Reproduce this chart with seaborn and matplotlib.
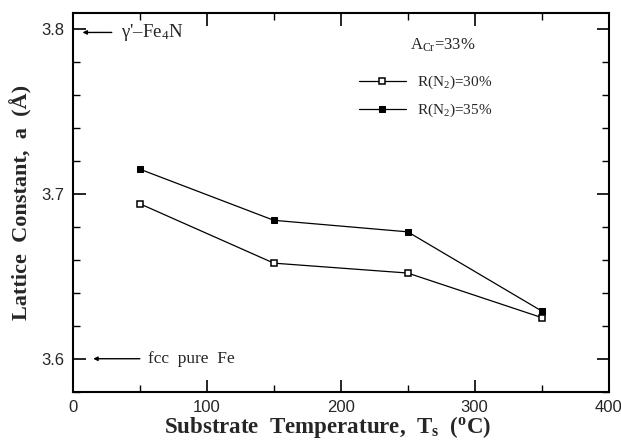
import matplotlib
matplotlib.use("Agg")
import matplotlib.pyplot as plt
from matplotlib.ticker import MultipleLocator, FormatStrFormatter
import numpy as np
import pandas as pd
import seaborn as sns

# Substrate temperature (°C) and lattice constant (Å) for two nitrogen flow ratios
temperature = [50, 150, 250, 350]
a_r30 = [3.694, 3.658, 3.652, 3.625]
a_r35 = [3.715, 3.684, 3.677, 3.629]
series_names = ["R(N$_2$)=30%", "R(N$_2$)=35%"]

# Reference lattice constants
a_fe4n = 3.798
a_fe_fcc = 3.600

sns.set_theme(style="ticks")
plt.rcParams["font.family"] = ["Liberation Serif", "DejaVu Serif"]
plt.rcParams["mathtext.fontset"] = "custom"
plt.rcParams["mathtext.rm"] = "Liberation Serif"
plt.rcParams["mathtext.it"] = "Liberation Serif:italic"
plt.rcParams["mathtext.bf"] = "Liberation Serif:bold"

df = pd.DataFrame({
    "T": temperature * 2,
    "a": a_r30 + a_r35,
    "series": [series_names[0]] * 4 + [series_names[1]] * 4,
})

fig = plt.figure(figsize=(6.21, 4.40), dpi=100)
ax = fig.add_axes([0.1176, 0.1098, 0.8623, 0.8614])

sns.lineplot(data=df[df.series == series_names[0]], x="T", y="a", ax=ax,
             color="black", lw=0.9, marker="s", markersize=5,
             markerfacecolor="white", markeredgecolor="black", markeredgewidth=1.1,
             label=series_names[0])
sns.lineplot(data=df[df.series == series_names[1]], x="T", y="a", ax=ax,
             color="black", lw=0.9, marker="s", markersize=5,
             markerfacecolor="black", markeredgecolor="black",
             label=series_names[1])

ax.set_xlim(0, 400)
ax.set_ylim(3.580, 3.810)
ax.xaxis.set_major_locator(MultipleLocator(100))
ax.xaxis.set_minor_locator(MultipleLocator(50))
ax.yaxis.set_major_locator(MultipleLocator(0.1))
ax.yaxis.set_minor_locator(MultipleLocator(0.02))
ax.yaxis.set_major_formatter(FormatStrFormatter("%.1f"))

ax.tick_params(which="both", direction="in", top=True, right=True, color="black")
ax.tick_params(which="major", length=9, width=1.2, labelsize=12, pad=6)
ax.tick_params(which="minor", length=5, width=1.0)
for lab in ax.get_xticklabels() + ax.get_yticklabels():
    lab.set_family("Liberation Sans")
for sp in ax.spines.values():
    sp.set_linewidth(1.5)
    sp.set_color("black")

ax.set_xlabel(r"Substrate  Temperature,  T$_\mathregular{s}$  ($^\mathregular{o}$C)",
              fontsize=16.5, fontweight="bold")
ax.xaxis.set_label_coords(0.476, -0.058)
ax.set_ylabel(r"Lattice  Constant,  a  (Å)", fontsize=16, fontweight="bold")
ax.yaxis.set_label_coords(-0.075, 0.5)

# Reference markers for γ'-Fe4N and fcc Fe
ax.annotate("", xy=(5, a_fe4n), xytext=(31, a_fe4n),
            arrowprops=dict(arrowstyle="-|>", color="black", lw=1.0, mutation_scale=6))
ax.text(36, a_fe4n, r"γ'–Fe$_\mathregular{4}$N", fontsize=13.5, va="center", ha="left")
ax.annotate("", xy=(13, a_fe_fcc), xytext=(52, a_fe_fcc),
            arrowprops=dict(arrowstyle="-|>", color="black", lw=1.0, mutation_scale=6))
ax.text(56, a_fe_fcc, "fcc  pure  Fe", fontsize=12.5, va="center", ha="left")

ax.text(252, 3.790, r"A$_\mathregular{Cr}$=33%", fontsize=12, va="center", ha="left")

leg = ax.legend(loc="upper left", bbox_to_anchor=(0.522, 0.855), frameon=False,
                fontsize=11, handlelength=3.1, handletextpad=0.75, labelspacing=0.7,
                borderaxespad=0)

fig.savefig("out.png", dpi=100)
